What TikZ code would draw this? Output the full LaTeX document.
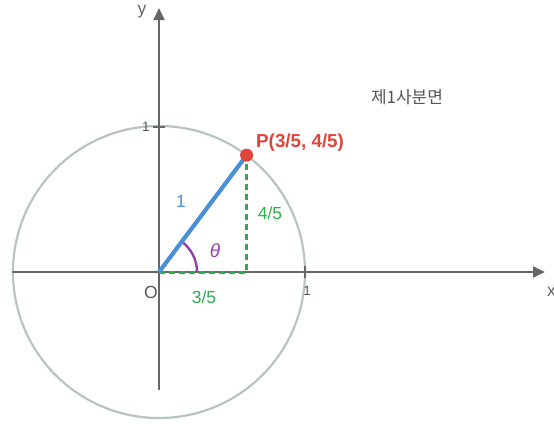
\documentclass[tikz,border=0pt]{standalone}
\usepackage{fontspec}
\setmainfont{Liberation Sans}
\newfontfamily\krfont{Noto Sans CJK KR}
\usetikzlibrary{arrows.meta}
\definecolor{axisgray}{HTML}{666666}
\definecolor{circgray}{HTML}{B8C4C2}
\definecolor{lineblue}{HTML}{4A90D9}
\definecolor{dgreen}{HTML}{2EAA4F}
\definecolor{pred}{HTML}{E0443A}
\definecolor{purp}{HTML}{8E44AD}
\definecolor{txtgray}{HTML}{555555}
\begin{document}
\begin{tikzpicture}[x=1pt,y=-1pt,
  axis/.style={draw=axisgray,line width=2pt,-{Triangle[length=12pt,width=11pt]}},
  lbl/.style={font=\fontsize{17.5}{20}\selectfont,inner sep=0pt},
  ticklbl/.style={font=\fontsize{13.5}{15}\selectfont,text=txtgray,inner sep=0pt},
  dashg/.style={draw=dgreen,line width=3pt,dash pattern=on 6pt off 4pt}]
\useasboundingbox (0,0) rectangle (554,423);
\coordinate (O) at (159,272);
\coordinate (P) at (246.6,155.2);
\coordinate (F) at (246.6,272);
\coordinate (xs) at (12,272);
\coordinate (xe) at (545,272);
\coordinate (ys) at (159,390);
\coordinate (ye) at (159,8);
% circle
\draw[circgray,line width=2.2pt] (O) circle[radius=146];
% axes
\draw[axis] (xs) -- (xe);
\draw[axis] (ys) -- (ye);
% ticks
\coordinate (tx1) at (305,266); \coordinate (tx2) at (305,278);
\coordinate (ty1) at (153,127); \coordinate (ty2) at (165,127);
\draw[axisgray,line width=1.6pt] (tx1) -- (tx2);
\draw[axisgray,line width=1.6pt] (ty1) -- (ty2);
% dashed
\draw[dashg] (O) -- (F) -- (P);
% arc
\draw[purp,line width=2.4pt] ([shift={(0:38)}]O) arc[start angle=0,end angle=-53.13,radius=38];
% radius
\draw[lineblue,line width=4.2pt] (O) -- (P);
\fill[pred] (P) circle[radius=6.5];
% labels
\node[lbl,text=axisgray] (ylab) at (142,12) {y};
\node[lbl,text=axisgray,anchor=west] (xlab) at (547,292) {x};
\node[lbl,text=txtgray] (olab) at (151,292) {O};
\node[ticklbl] (one1) at (146,127) {1};
\node[ticklbl] (one2) at (307,291) {1};
\node[lbl,text=dgreen] (l35) at (204,297) {3/5};
\node[lbl,text=dgreen] (l45) at (270,213) {4/5};
\node[lbl,text=lineblue] (l1) at (181,201) {1};
\node[lbl,text=purp,font=\fontsize{19}{21}\selectfont\itshape] (th) at (215,251) {θ};
\node[lbl,text=pred,anchor=west,font=\fontsize{18.8}{21}\selectfont\bfseries] (plab) at (256,143) {P(3/5, 4/5)};
\node[lbl,text=txtgray,font=\fontsize{17}{19}\selectfont\krfont] (q1) at (407,97) {제1사분면};
\end{tikzpicture}
\end{document}
